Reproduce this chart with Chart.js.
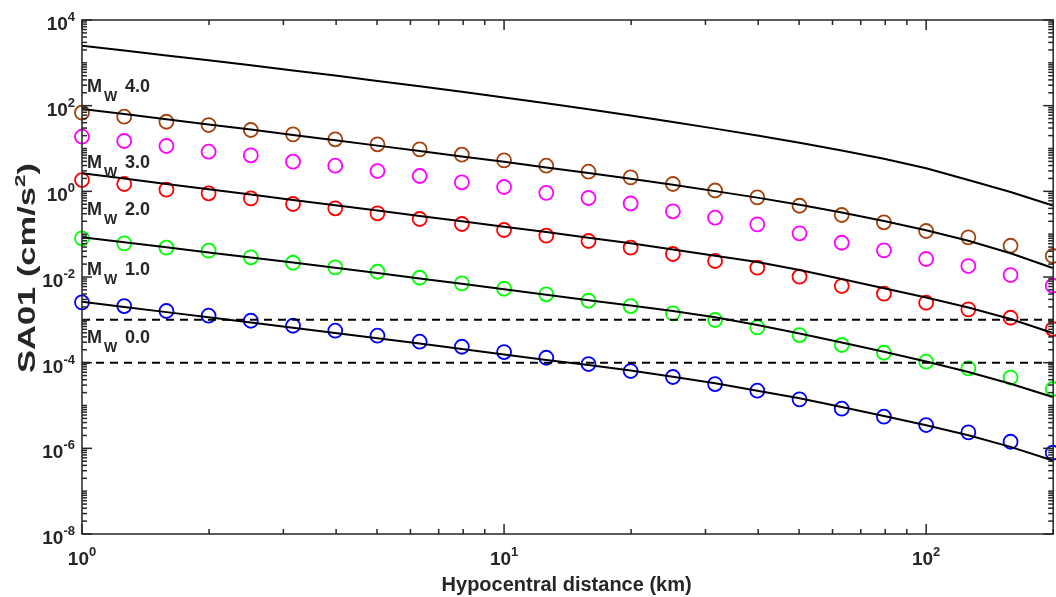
<!DOCTYPE html>
<html>
<head>
<meta charset="utf-8">
<script src="https://cdn.jsdelivr.net/npm/chart.js@4.4.0/dist/chart.umd.min.js"></script>
<style>
  html, body { margin: 0; padding: 0; background: #ffffff; overflow: hidden; }
  #wrap { width: 1062px; height: 597px; }
</style>
</head>
<body>
<div id="wrap"><canvas id="chart" width="1062" height="597"></canvas></div>
<script>
// Hypocentral distance (km) of each sample, ten per decade
const distanceKm = [1, 1.259, 1.585, 1.995, 2.512, 3.162, 3.981, 5.012, 6.31, 7.943,
  10, 12.59, 15.85, 19.95, 25.12, 31.62, 39.81, 50.12, 63.1, 79.43,
  100, 125.9, 158.5, 199.5];

// Model curves, log10 of SA01 (cm/s^2)
const curveTopLog = [3.400, 3.288, 3.173, 3.059, 2.942, 2.823, 2.702, 2.578, 2.452, 2.324,
  2.191, 2.055, 1.915, 1.770, 1.621, 1.464, 1.303, 1.133, 0.953, 0.759,
  0.537, 0.264, -0.016, -0.331];
const curveM4Log = [1.922, 1.803, 1.684, 1.562, 1.441, 1.317, 1.194, 1.067, 0.941, 0.815,
  0.689, 0.559, 0.428, 0.293, 0.152, 0.005, -0.147, -0.315, -0.494, -0.693,
  -0.910, -1.153, -1.447, -1.790];
const curveM3Log = [0.421, 0.297, 0.173, 0.050, -0.074, -0.200, -0.324, -0.450, -0.574, -0.700,
  -0.826, -0.952, -1.081, -1.214, -1.358, -1.503, -1.650, -1.837, -2.047, -2.264,
  -2.479, -2.713, -2.981, -3.308];
const curveM2Log = [-1.074, -1.190, -1.307, -1.426, -1.545, -1.664, -1.786, -1.909, -2.033, -2.159,
  -2.288, -2.416, -2.544, -2.666, -2.794, -2.941, -3.121, -3.320, -3.530, -3.745,
  -3.973, -4.219, -4.494, -4.802];
const curveM1Log = [-2.577, -2.699, -2.820, -2.941, -3.063, -3.184, -3.308, -3.432, -3.555, -3.681,
  -3.810, -3.938, -4.055, -4.183, -4.328, -4.482, -4.655, -4.833, -5.036, -5.246,
  -5.463, -5.696, -5.965, -6.285];

// Circle markers, log10 of SA01 (cm/s^2)
const brownLog = [1.836, 1.742, 1.625, 1.548, 1.432, 1.331, 1.215, 1.098, 0.981, 0.855,
  0.724, 0.598, 0.458, 0.327, 0.171, 0.019, -0.140, -0.336, -0.553, -0.723,
  -0.926, -1.074, -1.270, -1.510];
const magentaLog = [1.275, 1.175, 1.058, 0.925, 0.841, 0.692, 0.598, 0.474, 0.358, 0.211,
  0.101, -0.035, -0.156, -0.284, -0.466, -0.616, -0.770, -0.980, -1.200, -1.377,
  -1.580, -1.744, -1.954, -2.204];
const redLog = [0.264, 0.171, 0.040, -0.046, -0.163, -0.296, -0.396, -0.513, -0.646, -0.763,
  -0.903, -1.036, -1.160, -1.316, -1.463, -1.627, -1.783, -1.993, -2.211, -2.390,
  -2.601, -2.755, -2.951, -3.215];
const greenLog = [-1.097, -1.214, -1.316, -1.386, -1.540, -1.667, -1.774, -1.877, -2.017, -2.148,
  -2.274, -2.404, -2.554, -2.678, -2.848, -3.004, -3.175, -3.355, -3.588, -3.768,
  -3.978, -4.132, -4.347, -4.615];
const blueLog = [-2.591, -2.678, -2.794, -2.904, -3.021, -3.138, -3.254, -3.371, -3.511, -3.628,
  -3.752, -3.885, -4.032, -4.195, -4.335, -4.499, -4.655, -4.856, -5.075, -5.262,
  -5.456, -5.626, -5.846, -6.103];

// Horizontal dashed reference levels (cm/s^2)
const thresholdLevels = [1e-3, 1e-4];

// Magnitude labels: text and log10 of their baseline level
const magnitudeLabels = ['4.0', '3.0', '2.0', '1.0', '0.0'];
const magnitudeLabelLog = [2.319, 0.545, -0.553, -1.954, -3.541];

// Axis ranges and tick labels
const xRange = [1, 200];
const yRange = [1e-8, 1e4];
const xTickExponents = [0, 1, 2];
const yTickExponents = [4, 2, 0, -2, -4, -6, -8];

const AXIS = '#262626';
const FONT = '"Liberation Sans", Arial, Helvetica, sans-serif';

const toPoints = logs => logs.map((v, i) => ({ x: distanceKm[i], y: Math.pow(10, v) }));

function curve(logs) {
  return { data: toPoints(logs), borderColor: '#000000', borderWidth: 2, pointRadius: 0,
           fill: false, order: 0 };
}
function markers(logs, color) {
  return { data: toPoints(logs), showLine: false, borderColor: color, backgroundColor: 'rgba(0,0,0,0)',
           pointStyle: 'circle', pointRadius: 7, pointBorderWidth: 1.8, pointBorderColor: color,
           pointBackgroundColor: 'rgba(0,0,0,0)', clip: false, order: 1 };
}
function dashed(level) {
  return { data: [{ x: xRange[0], y: level }, { x: xRange[1], y: level }], borderColor: '#000000',
           borderWidth: 2, borderDash: [8, 6], pointRadius: 0, fill: false, order: 0 };
}

// Draws the axes box, inward ticks, power-of-ten labels, titles and magnitude tags
const frame = {
  id: 'frame',
  afterDatasetsDraw(chart) {
    const { ctx, chartArea: a, scales: { x, y } } = chart;
    ctx.save();
    ctx.strokeStyle = AXIS;
    ctx.lineWidth = 1.5;
    ctx.strokeRect(a.left, a.top, a.right - a.left, a.bottom - a.top);

    const seg = (x1, y1, x2, y2) => { ctx.beginPath(); ctx.moveTo(x1, y1); ctx.lineTo(x2, y2); ctx.stroke(); };

    // x ticks
    for (let e = 0; e <= 2; e++) {
      for (let m = 1; m <= 9; m++) {
        const v = m * Math.pow(10, e);
        if (v > xRange[1]) continue;
        const px = x.getPixelForValue(v);
        const len = m === 1 ? 10 : 5;
        seg(px, a.bottom, px, a.bottom - len);
        seg(px, a.top, px, a.top + len);
      }
    }
    // y ticks
    for (let e = -8; e <= 4; e++) {
      for (let m = 1; m <= 9; m++) {
        const v = m * Math.pow(10, e);
        if (v > yRange[1] * 1.0001) continue;
        const py = y.getPixelForValue(v);
        const len = (m === 1 && e % 2 === 0) ? 10 : 5;
        seg(a.left, py, a.left + len, py);
        seg(a.right, py, a.right - len, py);
      }
    }

    ctx.fillStyle = AXIS;
    ctx.textBaseline = 'alphabetic';
    const baseFont = 'bold 19px ' + FONT;
    const supFont = 'bold 13px ' + FONT;
    function power(exp, left, baseY) {
      ctx.font = baseFont; ctx.textAlign = 'left';
      ctx.fillText('10', left, baseY);
      const w = ctx.measureText('10').width;
      ctx.font = supFont;
      ctx.fillText(String(exp), left + w, baseY - 9);
    }
    function powerWidth(exp) {
      ctx.font = baseFont; const w1 = ctx.measureText('10').width;
      ctx.font = supFont; const w2 = ctx.measureText(String(exp)).width;
      return w1 + w2;
    }
    xTickExponents.forEach(e => {
      const px = x.getPixelForValue(Math.pow(10, e));
      power(e, px - powerWidth(e) / 2, a.bottom + 31);
    });
    yTickExponents.forEach(e => {
      const py = y.getPixelForValue(Math.pow(10, e));
      power(e, a.left - 7 - powerWidth(e), py + 10);
    });

    // axis titles
    ctx.font = 'bold 20px ' + FONT;
    ctx.textAlign = 'center';
    ctx.fillText('Hypocentral distance (km)', (a.left + a.right) / 2 - 1, a.bottom + 57);

    ctx.save();
    ctx.translate(35, 268);
    ctx.rotate(-Math.PI / 2);
    ctx.scale(1.5, 1);
    const big = 'bold 23px ' + FONT, small = 'bold 15px ' + FONT;
    const t1 = 'SA01 (cm/s', t2 = '2', t3 = ')';
    ctx.font = big;
    const w1 = ctx.measureText(t1).width;
    const w3 = ctx.measureText(t3).width;
    ctx.font = small;
    const w2 = ctx.measureText(t2).width;
    const start = -(w1 + w2 + w3) / 2;
    ctx.textAlign = 'left';
    ctx.font = big;
    ctx.fillText(t1, start, 0);
    ctx.font = small;
    ctx.fillText(t2, start + w1, -10);
    ctx.font = big;
    ctx.fillText(t3, start + w1 + w2, 0);
    ctx.restore();

    // magnitude tags
    ctx.textAlign = 'left';
    magnitudeLabels.forEach((txt, i) => {
      const px = x.getPixelForValue(xRange[0]) + 5;
      const py = y.getPixelForValue(Math.pow(10, magnitudeLabelLog[i]));
      ctx.font = 'bold 18px ' + FONT;
      ctx.fillText('M', px, py);
      const wm = ctx.measureText('M').width;
      ctx.font = 'bold 14px ' + FONT;
      ctx.fillText('W', px + wm + 2, py + 9);
      ctx.font = 'bold 18px ' + FONT;
      ctx.fillText(txt, px + 38, py);
    });
    ctx.restore();
  }
};

new Chart(document.getElementById('chart').getContext('2d'), {
  type: 'line',
  data: {
    datasets: [
      curve(curveTopLog), curve(curveM4Log), curve(curveM3Log), curve(curveM2Log), curve(curveM1Log),
      dashed(thresholdLevels[0]), dashed(thresholdLevels[1]),
      markers(brownLog, '#A3420C'),
      markers(magentaLog, '#FF00FF'),
      markers(redLog, '#FF0000'),
      markers(greenLog, '#00FF00'),
      markers(blueLog, '#0000FF')
    ]
  },
  options: {
    responsive: false,
    animation: false,
    layout: { padding: { left: 82, top: 20, right: 4, bottom: 63 } },
    plugins: { legend: { display: false }, tooltip: { enabled: false } },
    elements: { line: { tension: 0 } },
    scales: {
      x: { type: 'logarithmic', min: xRange[0], max: xRange[1], display: false },
      y: { type: 'logarithmic', min: yRange[0], max: yRange[1], display: false }
    }
  },
  plugins: [frame]
});
</script>
</body>
</html>
